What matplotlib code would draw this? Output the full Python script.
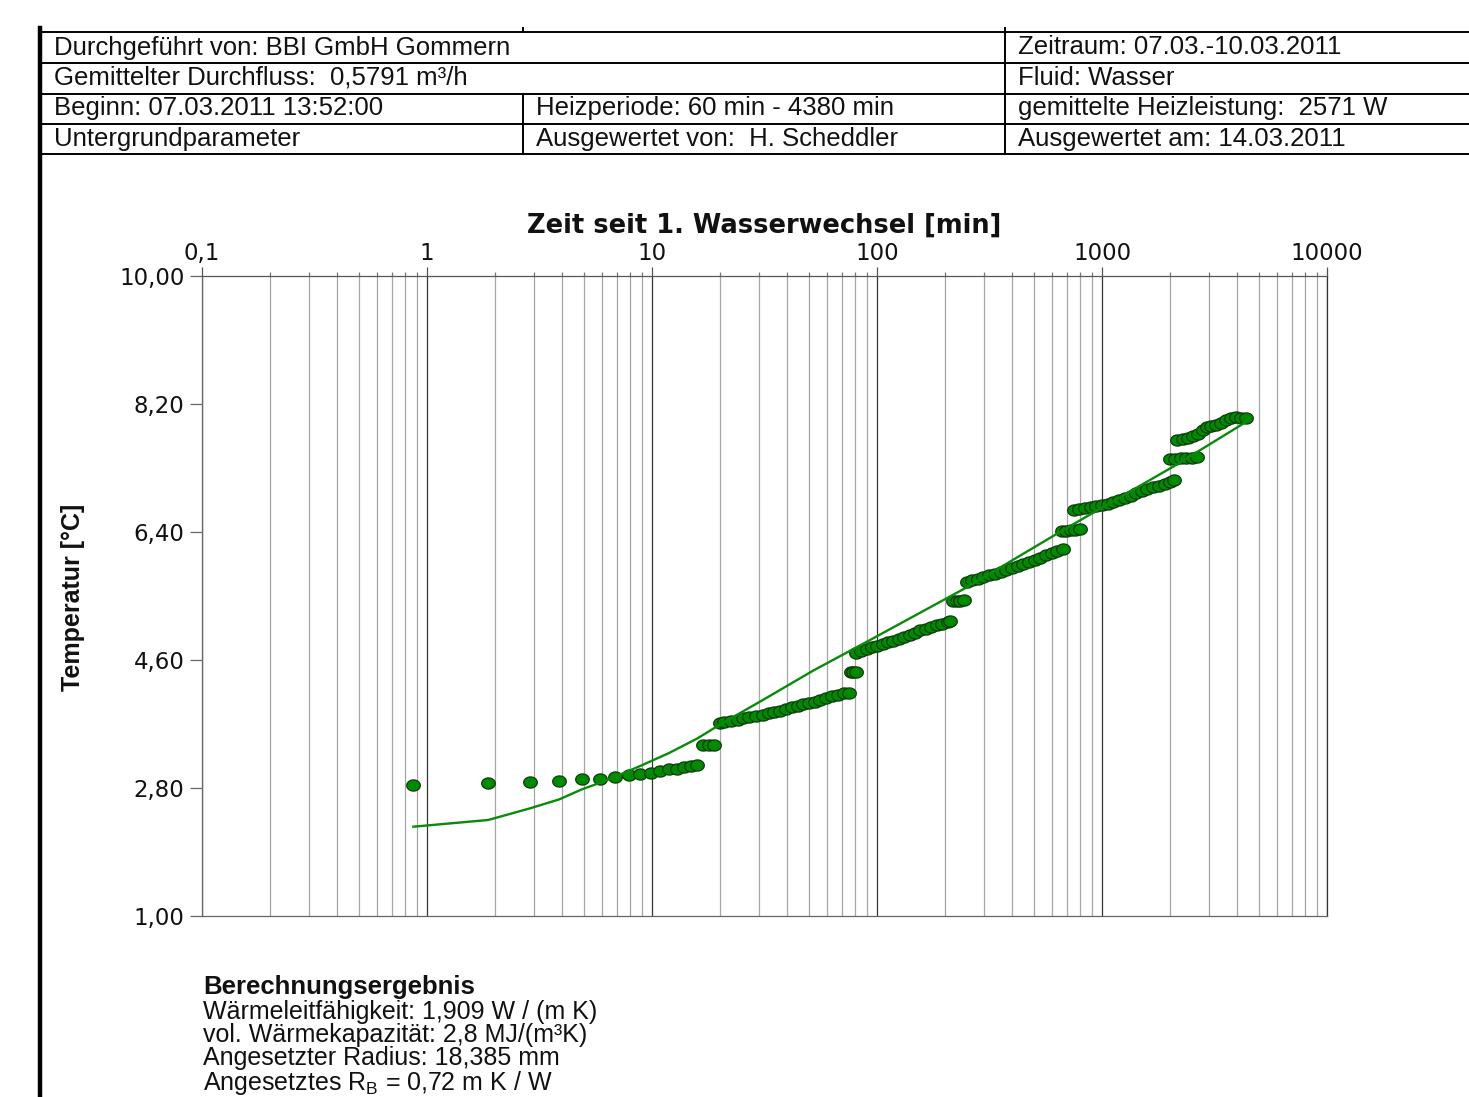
import numpy as np
import matplotlib
matplotlib.use("Agg")
import matplotlib.pyplot as plt
from matplotlib.lines import Line2D
from matplotlib.path import Path
from matplotlib.ticker import FixedLocator, NullFormatter

# ---------------- data ----------------
time_min = [
    0.87, 1.87, 2.87, 3.87, 4.87, 5.87, 6.87, 7.87, 8.87, 9.87, 10.87, 11.87,
    12.87, 13.87, 14.87, 15.87,
    16.87, 17.87, 18.87,
    20, 21, 22.5, 24, 25.5, 27, 29, 31, 33, 35, 37, 39.5, 42, 44.5, 47, 50, 53,
    56, 59.5, 63, 67, 71, 75,
    76.5, 78.5, 80.5,
    81, 85, 90, 95, 100, 106, 112, 118, 125, 132, 140, 148, 156, 165, 174, 184,
    195, 206, 212,
    218, 226, 234, 243,
    250, 265, 280, 297, 315, 334, 354, 375, 398, 422, 447, 474, 502, 532, 564,
    598, 634, 672,
    665, 695, 725, 760, 795,
    750, 790, 840, 890, 940, 1000, 1060, 1120, 1190, 1260, 1340, 1420, 1500,
    1590, 1690, 1790, 1900, 2010, 2080,
    2010, 2120, 2240, 2370, 2500, 2640,
    2160, 2280, 2400, 2530, 2670, 2800, 2920, 3050, 3200, 3380, 3560, 3750,
    3950, 4150, 4380,
]
temp_c = [
    2.84, 2.87, 2.88, 2.90, 2.93, 2.93, 2.96, 2.98, 2.99, 3.01, 3.04, 3.07,
    3.07, 3.10, 3.11, 3.13,
    3.41, 3.41, 3.41,
    3.71, 3.725, 3.745, 3.76, 3.78, 3.795, 3.81, 3.83, 3.855, 3.87, 3.885, 3.905,
    3.94, 3.955, 3.975, 3.995, 4.015, 4.04, 4.065, 4.09, 4.11, 4.13, 4.14,
    4.43, 4.43, 4.43,
    4.70, 4.72, 4.75, 4.78, 4.80, 4.83, 4.85, 4.87, 4.90, 4.93, 4.95, 4.98,
    5.02, 5.04, 5.065, 5.09, 5.11, 5.14, 5.15,
    5.43, 5.43, 5.43, 5.44,
    5.70, 5.72, 5.74, 5.77, 5.79, 5.815, 5.84, 5.87, 5.895, 5.92, 5.95, 5.98,
    6.01, 6.04, 6.07, 6.10, 6.13, 6.155,
    6.42, 6.42, 6.43, 6.43, 6.44,
    6.71, 6.72, 6.74, 6.755, 6.77, 6.785, 6.80, 6.825, 6.85, 6.88, 6.91, 6.945,
    6.975, 7.00, 7.03, 7.05, 7.075, 7.10, 7.125,
    7.42, 7.43, 7.435, 7.44, 7.445, 7.45,
    7.70, 7.71, 7.725, 7.75, 7.78, 7.83, 7.87, 7.885, 7.90, 7.93, 7.97, 8.00,
    8.02, 8.01, 8.01,
]

fit_time_min = [0.87, 1.87, 2.87, 3.87, 4.87, 5.87, 6.87, 8.87, 11.87, 15.87,
                20, 31, 52, 93, 250, 650, 1160, 2100, 4380]
fit_temp_c = [2.256, 2.35, 2.514, 2.64, 2.78, 2.873, 2.96, 3.11, 3.29, 3.495,
              3.69, 4.035, 4.45, 4.88, 5.62, 6.40, 6.86, 7.33, 7.95]

x_ticks = [0.1, 1, 10, 100, 1000, 10000]
x_tick_labels = ["0,1", "1", "10", "100", "1000", "10000"]
y_ticks = [1.0, 2.8, 4.6, 6.4, 8.2, 10.0]
y_tick_labels = ["1,00", "2,80", "4,60", "6,40", "8,20", "10,00"]

header_rows = [
    ["Durchgeführt von: BBI GmbH Gommern", None, "Zeitraum: 07.03.-10.03.2011"],
    ["Gemittelter Durchfluss:  0,5791 m³/h", None, "Fluid: Wasser"],
    ["Beginn: 07.03.2011 13:52:00", "Heizperiode: 60 min - 4380 min",
     "gemittelte Heizleistung:  2571 W"],
    ["Untergrundparameter", "Ausgewertet von:  H. Scheddler",
     "Ausgewertet am: 14.03.2011"],
]
result_title = "Berechnungsergebnis"
result_lines = [
    "Wärmeleitfähigkeit: 1,909 W / (m K)",
    "vol. Wärmekapazität: 2,8 MJ/(m³K)",
    "Angesetzter Radius: 18,385 mm",
    r"Angesetztes R$_\mathregular{B}$ = 0,72 m K / W",
]

# ---------------- figure ----------------
W, H = 1469, 1097
fig = plt.figure(figsize=(W / 100, H / 100), dpi=100)
fig.patch.set_facecolor("white")


def fx(x):
    return x / W


def fy(y):
    return 1 - y / H


def hline(x0, x1, y, lw=1.4, color="black"):
    fig.add_artist(Line2D([fx(x0), fx(x1)], [fy(y), fy(y)], lw=lw,
                          color=color, transform=fig.transFigure))


def vline(x, y0, y1, lw=1.4, color="black"):
    fig.add_artist(Line2D([fx(x), fx(x)], [fy(y0), fy(y1)], lw=lw,
                          color=color, transform=fig.transFigure))


# header table
row_lines = [32, 63, 94, 124, 154]
for y in row_lines:
    hline(40, W, y)
vline(1005, 28, 154)
vline(523, 28, 32)
vline(523, 94, 154)
vline(40, 28, H, lw=3.2)

txt_font = ["Liberation Sans", "DejaVu Sans"]
col_x = [54, 536, 1018]
row_cy = [47.5, 78, 108.5, 139]
for r, row in enumerate(header_rows):
    for c, s in enumerate(row):
        if s:
            fig.text(fx(col_x[c]), fy(row_cy[r]), s, fontsize=18.5,
                     family=txt_font, ha="left", va="center", color="#111111")

# axes
ax = fig.add_axes([fx(202), fy(916), (1327 - 202) / W, (916 - 276) / H])
ax.set_xscale("log")
ax.set_xlim(0.1, 10000)
ax.set_ylim(1, 10)

ax.xaxis.tick_top()
ax.xaxis.set_major_locator(FixedLocator(x_ticks))
ax.set_xticklabels(x_tick_labels)
minor = [m * 10.0 ** e for e in range(-1, 4) for m in range(2, 10)]
ax.xaxis.set_minor_locator(FixedLocator(minor))
ax.xaxis.set_minor_formatter(NullFormatter())
ax.set_yticks(y_ticks)
ax.set_yticklabels(y_tick_labels)

ax.tick_params(axis="x", which="major", direction="out", length=6.5,
               width=0.9, color="#555555", pad=1.5, labelsize=16.5,
               labelcolor="#111111")
ax.tick_params(axis="x", which="minor", direction="out", length=3,
               width=0.9, color="#777777")
ax.tick_params(axis="y", which="major", direction="out", length=8.6,
               width=0.9, color="#666666", pad=4, labelsize=16.5,
               labelcolor="#111111")
for lab in ax.get_xticklabels() + ax.get_yticklabels():
    lab.set_family("DejaVu Sans")

ax.grid(which="major", axis="x", color="#333333", lw=0.9)
ax.grid(which="minor", axis="x", color="#a6a6a6", lw=0.9)
ax.grid(False, axis="y")
for side, col in [("top", "#555555"), ("left", "#666666"),
                  ("bottom", "#666666"), ("right", "#333333")]:
    ax.spines[side].set_color(col)
    ax.spines[side].set_linewidth(0.9)

# elliptic marker (the dots are slightly wider than tall)
th = np.linspace(0, 2 * np.pi, 41)
ellipse = Path(np.column_stack([1.22 * np.cos(th), np.sin(th)]), closed=True)

ax.plot(time_min, temp_c, linestyle="none", marker=ellipse, ms=9.8,
        mfc="#008a00", mec="#0d3b0d", mew=0.9, zorder=3)
ax.plot(fit_time_min, fit_temp_c, color="#0a8a0a", lw=1.7, zorder=4)

# axis titles
fig.text(fx(764), fy(226), "Zeit seit 1. Wasserwechsel [min]", fontsize=18.5,
         fontweight="bold", family=["DejaVu Sans"], ha="center", va="center",
         color="#111111")
fig.text(fx(73), fy(597), "Temperatur [°C]", fontsize=18, fontweight="bold",
         family=txt_font, rotation=90, ha="center", va="center",
         color="#111111")

# results block
fig.text(fx(203), fy(994), result_title, fontsize=18.5, fontweight="bold",
         family=txt_font, ha="left", va="baseline", color="#111111")
fig.text(fx(203), fy(1000), "\n".join(result_lines), fontsize=18,
         family=txt_font, ha="left", va="top", linespacing=0.95,
         color="#111111")

fig.savefig("out.png", dpi=100, facecolor="white")
